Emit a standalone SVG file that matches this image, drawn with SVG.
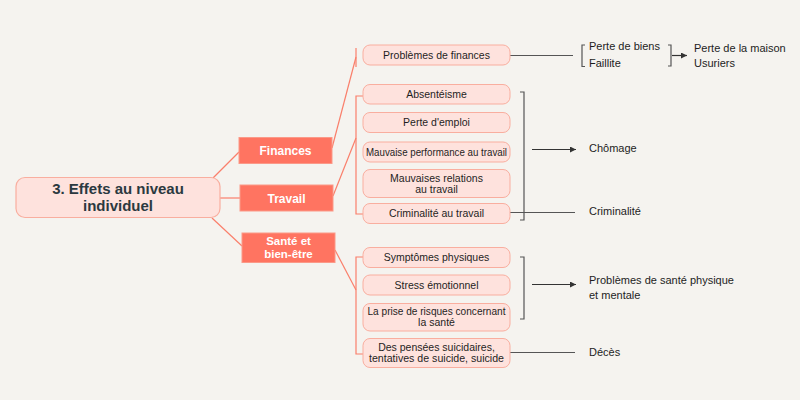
<svg xmlns="http://www.w3.org/2000/svg" width="800" height="400" viewBox="0 0 800 400">
<defs>
<marker id="ah" markerWidth="8" markerHeight="8" refX="6" refY="3" orient="auto" markerUnits="userSpaceOnUse">
<path d="M0,0 L6,3 L0,6 Z" fill="#333"/>
</marker>
<style>
.bg{fill:#f5f3ef}
.root{fill:#fee2dd;stroke:#f9ae9f;stroke-width:1.2}
.roott{font-family:"Liberation Sans",Arial,sans-serif;font-weight:bold;font-size:15px;fill:#2b3940;text-anchor:middle}
.br{fill:#ff7461;stroke:#fb9988;stroke-width:1}
.brt{font-family:"Liberation Sans",Arial,sans-serif;font-weight:bold;font-size:12px;fill:#ffffff;text-anchor:middle}
.brt2{font-family:"Liberation Sans",Arial,sans-serif;font-weight:bold;font-size:11.5px;fill:#ffffff;text-anchor:middle}
.lf{fill:#fee2dd;stroke:#f9ae9f;stroke-width:1}
.lft{font-family:"Liberation Sans",Arial,sans-serif;font-size:10.5px;fill:#1e1e1e;text-anchor:middle}
.rt{font-family:"Liberation Sans",Arial,sans-serif;font-size:11px;fill:#1d1d1d}
.cl{fill:none;stroke:#fa7f6b;stroke-width:1.2}
.gl{fill:none;stroke:#555555;stroke-width:1.2}
.ar{fill:none;stroke:#333333;stroke-width:1.2}
</style>
</defs>
<rect class="bg" x="0" y="0" width="800" height="400"/>

<g id="connectors">
<line class="cl" x1="213" y1="178" x2="239" y2="152"/>
<line class="cl" x1="220" y1="198" x2="240" y2="198"/>
<line class="cl" x1="212" y1="218" x2="242" y2="246"/>
<line class="cl" x1="332" y1="148" x2="356" y2="57"/>
<line class="cl" x1="356" y1="48" x2="356" y2="67"/>
<line class="cl" x1="333" y1="196" x2="356" y2="138"/>
<polyline class="cl" points="363,96 356,96 356,214 363,214"/>
<line class="cl" x1="335" y1="250" x2="356" y2="290"/>
<polyline class="cl" points="363,257 356,257 356,354 363,354"/>

<line class="gl" x1="510" y1="55.5" x2="573" y2="55.5"/>
<polyline class="gl" points="585,45 582,45 582,66.5 585,66.5"/>
<polyline class="gl" points="668,45 671,45 671,66 668,66"/>
<line class="ar" x1="672" y1="55.5" x2="687" y2="55.5" marker-end="url(#ah)"/>

<polyline class="gl" points="520,92 524,92 524,220 520,220"/>
<line class="ar" x1="532" y1="149.5" x2="576" y2="149.5" marker-end="url(#ah)"/>
<line class="gl" x1="510" y1="212.5" x2="575" y2="212.5"/>

<polyline class="gl" points="520,257 524,257 524,319 520,319"/>
<line class="ar" x1="532" y1="284.5" x2="576" y2="284.5" marker-end="url(#ah)"/>
<line class="gl" x1="510" y1="352.5" x2="575" y2="352.5"/>
</g>

<g id="root">
<rect class="root" x="16" y="177.5" width="204" height="40" rx="9"/>
<text class="roott" x="118" y="193.5">3. Effets au niveau</text>
<text class="roott" x="118" y="210.5">individuel</text>
</g>

<g id="finances">
<rect class="br" x="239" y="137.5" width="93" height="26"/>
<text class="brt" x="285.5" y="154.5">Finances</text>
</g>
<g id="travail">
<rect class="br" x="240" y="185" width="93" height="26"/>
<text class="brt" x="286.5" y="202.5">Travail</text>
</g>
<g id="sante">
<rect class="br" x="242" y="233" width="93" height="29.5"/>
<text class="brt2" x="288.5" y="245">Santé et</text>
<text class="brt2" x="288.5" y="257.5">bien-être</text>
</g>

<g id="problemes-finances">
<rect class="lf" x="363" y="45" width="147" height="20" rx="7"/>
<text class="lft" x="436.5" y="58.5">Problèmes de finances</text>
</g>
<g id="absenteisme">
<rect class="lf" x="363" y="84.5" width="147" height="19.5" rx="7"/>
<text class="lft" x="436.5" y="97.5">Absentéisme</text>
</g>
<g id="perte-emploi">
<rect class="lf" x="363" y="112.5" width="147" height="20" rx="7"/>
<text class="lft" x="436.5" y="125.5">Perte d'emploi</text>
</g>
<g id="mauvaise-performance">
<rect class="lf" x="363" y="142" width="147" height="20" rx="7"/>
<text class="lft" x="436.5" y="155.5" textLength="141" lengthAdjust="spacingAndGlyphs">Mauvaise performance au travail</text>
</g>
<g id="mauvaises-relations">
<rect class="lf" x="363" y="169.5" width="147" height="28" rx="7"/>
<text class="lft" x="436.5" y="182">Mauvaises relations</text>
<text class="lft" x="436.5" y="193">au travail</text>
</g>
<g id="criminalite-travail">
<rect class="lf" x="363" y="203.5" width="147" height="20" rx="7"/>
<text class="lft" x="436.5" y="216.5">Criminalité au travail</text>
</g>
<g id="symptomes">
<rect class="lf" x="363" y="247.5" width="147" height="20" rx="7"/>
<text class="lft" x="436.5" y="260.5">Symptômes physiques</text>
</g>
<g id="stress">
<rect class="lf" x="363" y="275" width="147" height="20" rx="7"/>
<text class="lft" x="436.5" y="288.5">Stress émotionnel</text>
</g>
<g id="prise-risques">
<rect class="lf" x="363" y="303.5" width="147" height="27.5" rx="7"/>
<text class="lft" x="436.5" y="315" textLength="138" lengthAdjust="spacingAndGlyphs">La prise de risques concernant</text>
<text class="lft" x="436.5" y="326">la santé</text>
</g>
<g id="pensees-suicidaires">
<rect class="lf" x="363" y="338.5" width="147" height="29" rx="7"/>
<text class="lft" x="436.5" y="351">Des pensées suicidaires,</text>
<text class="lft" x="436.5" y="362" textLength="135" lengthAdjust="spacingAndGlyphs">tentatives de suicide, suicide</text>
</g>

<g id="perte-biens">
<text class="rt" x="589" y="50">Perte de biens</text>
<text class="rt" x="589" y="67">Faillite</text>
</g>
<g id="perte-maison">
<text class="rt" x="694" y="52">Perte de la maison</text>
<text class="rt" x="694" y="67">Usuriers</text>
</g>
<g id="chomage">
<text class="rt" x="589" y="152">Chômage</text>
</g>
<g id="criminalite">
<text class="rt" x="589" y="214.5">Criminalité</text>
</g>
<g id="sante-physique-mentale">
<text class="rt" x="589" y="284">Problèmes de santé physique</text>
<text class="rt" x="589" y="298.5">et mentale</text>
</g>
<g id="deces">
<text class="rt" x="589" y="355.5">Décès</text>
</g>
</svg>
